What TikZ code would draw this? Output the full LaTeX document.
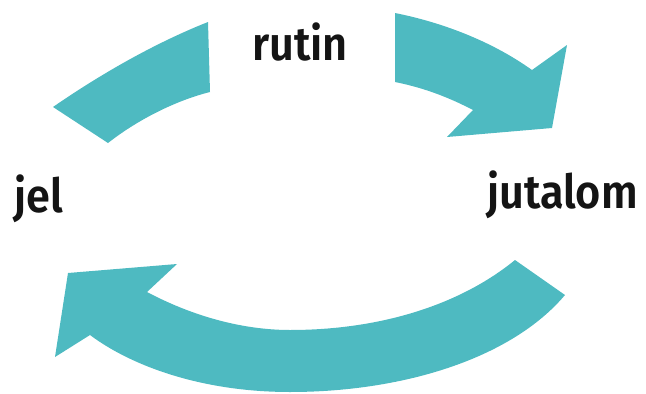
\documentclass[tikz,border=0pt]{standalone}
\usepackage{fontspec}
\setmainfont{Fira Sans}
\newfontfamily\lblfont{Fira Sans SemiBold}[FakeStretch=0.92]
\definecolor{cyc}{HTML}{4EBAC1}
\begin{document}
\begin{tikzpicture}[x=1pt,y=-1pt,
  band/.style={fill=cyc,draw=none},
  lbl/.style={font=\fontsize{47}{50}\lblfont,text=black!92,inner sep=0pt,anchor=base}]
\useasboundingbox (0,0) rectangle (646,394);
% top-left band
\fill[band] (53,107) .. controls (95,78) and (150,45) .. (208,22) -- (210,92)
  .. controls (178,100) and (140,118) .. (108,143) -- cycle;
% top-right arrow
\fill[band] (395,13) .. controls (440,22) and (490,40) .. (532,70) -- (567,45) -- (552,128)
  -- (447,137) -- (473,110) .. controls (450,98) and (425,88) .. (395,82) -- cycle;
% bottom arrow
\fill[band] (515,260) -- (565,295) .. controls (510,360) and (400,392) .. (290,392)
  .. controls (200,392) and (130,365) .. (90,335) -- (55,357) -- (68,273) -- (177,264)
  -- (147,292) .. controls (200,320) and (250,330) .. (290,330)
  .. controls (380,330) and (460,305) .. (515,260) -- cycle;
\node[lbl] (rutin) at (300,60) {rutin};
\node[lbl,anchor=base west] (jel) at (14,212) {jel};
\node[lbl,anchor=base west] (jutalom) at (487,208) {jutalom};
\end{tikzpicture}
\end{document}
